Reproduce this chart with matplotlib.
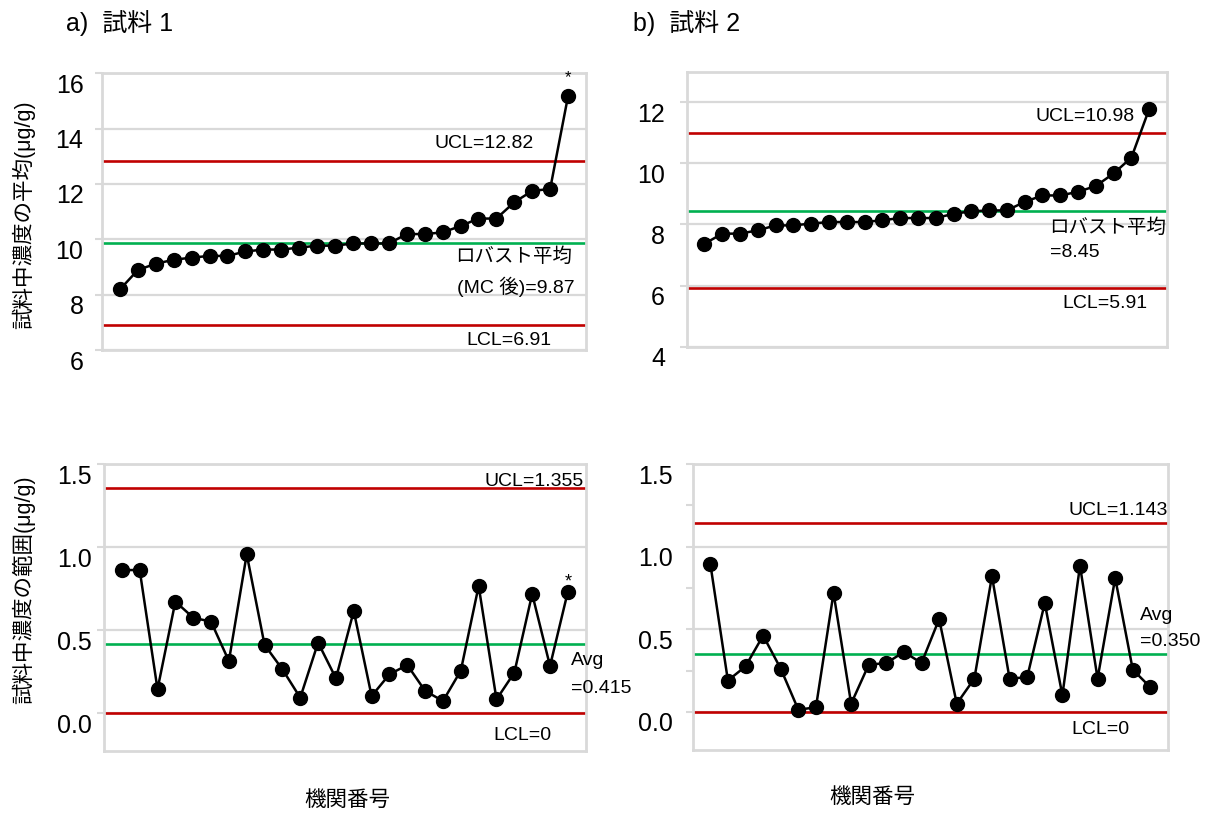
import matplotlib
matplotlib.use("Agg")
import matplotlib.pyplot as plt
import matplotlib.transforms as mtransforms
import numpy as np

plt.rcParams['font.family'] = ['Liberation Sans', 'Noto Sans CJK JP', 'DejaVu Sans']

# Lab means, sorted ascending (sample 1 / sample 2)
mean_s1 = [8.19, 8.89, 9.12, 9.26, 9.34, 9.40, 9.40, 9.56, 9.63, 9.63, 9.70, 9.77, 9.77,
           9.85, 9.85, 9.85, 10.19, 10.19, 10.25, 10.48, 10.75, 10.75, 11.34, 11.75, 11.82, 15.18]
mean_s2 = [7.37, 7.70, 7.70, 7.81, 7.97, 7.97, 8.03, 8.08, 8.08, 8.08, 8.14, 8.21, 8.21,
           8.21, 8.35, 8.43, 8.46, 8.46, 8.74, 8.95, 8.95, 9.07, 9.26, 9.67, 10.19, 11.78]

# Within-lab ranges in the same lab order
range_s1 = [0.863, 0.863, 0.145, 0.673, 0.576, 0.552, 0.315, 0.958, 0.412, 0.265, 0.094, 0.426, 0.211,
            0.616, 0.104, 0.235, 0.291, 0.135, 0.074, 0.257, 0.767, 0.084, 0.245, 0.719, 0.285, 0.733]
range_s2 = [0.897, 0.190, 0.276, 0.462, 0.262, 0.014, 0.028, 0.720, 0.050, 0.286, 0.296, 0.363, 0.296,
            0.562, 0.050, 0.202, 0.821, 0.202, 0.210, 0.659, 0.101, 0.885, 0.202, 0.810, 0.256, 0.149]

# Control limits and centre lines
ucl_mean = [12.82, 10.98]
lcl_mean = [6.91, 5.91]
center_mean = [9.87, 8.45]
ucl_range = [1.355, 1.143]
lcl_range = [0, 0]
center_range = [0.415, 0.350]

mean_ticks_s1 = [6, 8, 10, 12, 14, 16]
mean_ticks_s2 = [4, 6, 8, 10, 12]
range_ticks = [0.0, 0.5, 1.0, 1.5]
range_tick_labels = ["0.0", "0.5", "1.0", "1.5"]

panel_titles = ["a)  試料 1", "b)  試料 2"]
ylabel_mean = "試料中濃度の平均(μg/g)"
ylabel_range = "試料中濃度の範囲(μg/g)"
xlabel = "機関番号"

W, H = 1208, 813
fig = plt.figure(figsize=(W / 100, H / 100), dpi=100)

RED = "#c00000"
GREEN = "#00b050"
GRID = "#d9d9d9"
TXT = 14


def px_axes(x0, y0, x1, y1):
    return fig.add_axes([x0 / W, 1 - y1 / H, (x1 - x0) / W, (y1 - y0) / H])


def style(ax, ylim, yticks, pad, labels=None, minor=None):
    n = len(mean_s1)
    ax.set_xlim(0, n + 1)
    ax.set_ylim(*ylim)
    ax.set_yticks(yticks)
    if labels is not None:
        ax.set_yticklabels(labels)
    if minor is not None:
        ax.set_yticks(minor, minor=True)
    ax.set_xticks([])
    ax.yaxis.grid(True, which='major', color=GRID, linewidth=1.6)
    ax.set_axisbelow(True)
    for sp in ax.spines.values():
        sp.set_color(GRID)
        sp.set_linewidth(2.0)
    ax.tick_params(axis='y', which='both', length=5, width=1.5, color=GRID,
                   pad=pad, labelsize=18)
    # tick labels sit a little below their grid lines
    off = mtransforms.ScaledTranslation(0, -0.10, fig.dpi_scale_trans)
    for lab in ax.get_yticklabels():
        lab.set_transform(lab.get_transform() + off)


def hline(ax, y, color):
    ax.axhline(y, color=color, linewidth=1.9, zorder=2)


def note(ax, x, y, s, dy, ha, va='center', size=TXT):
    ax.annotate(s, xy=(x, y), xytext=(0, dy), textcoords='offset pixels',
                ha=ha, va=va, fontsize=size, color='black', zorder=5)


def series(ax, vals):
    x = np.arange(1, len(vals) + 1)
    ax.plot(x, vals, color='black', linewidth=1.8, marker='o', markersize=10,
            zorder=4)


# --- a) mean chart, sample 1
ax1 = px_axes(102, 73.3, 586, 350)
hline(ax1, ucl_mean[0], RED)
hline(ax1, lcl_mean[0], RED)
hline(ax1, center_mean[0], GREEN)
series(ax1, mean_s1)
style(ax1, (6, 16), mean_ticks_s1, 8.4)
note(ax1, 24.1, ucl_mean[0], "UCL=12.82", 18, 'right')
note(ax1, 19.7, center_mean[0], "ロバスト平均", -14, 'left')
note(ax1, 19.8, center_mean[0], "(MC 後)=9.87", -44, 'left')
note(ax1, 25.1, lcl_mean[0], "LCL=6.91", -16, 'right')
note(ax1, 26, mean_s1[-1], "*", 18, 'center', size=12)

# --- b) mean chart, sample 2
ax2 = px_axes(686.7, 71.7, 1167, 346.7)
hline(ax2, ucl_mean[1], RED)
hline(ax2, lcl_mean[1], RED)
hline(ax2, center_mean[1], GREEN)
series(ax2, mean_s2)
style(ax2, (4, 13), mean_ticks_s2, 10.6)
note(ax2, 25.2, ucl_mean[1], "UCL=10.98", 17, 'right')
note(ax2, 20.4, center_mean[1], "ロバスト平均", -17, 'left')
note(ax2, 20.4, center_mean[1], "=8.45", -42, 'left')
note(ax2, 25.9, lcl_mean[1], "LCL=5.91", -15, 'right')

# --- a) range chart, sample 1
ax3 = px_axes(104, 464.3, 585.7, 751)
hline(ax3, ucl_range[0], RED)
hline(ax3, lcl_range[0], RED)
hline(ax3, center_range[0], GREEN)
series(ax3, range_s1)
style(ax3, (-0.227, 1.5), range_ticks, 3.8, labels=range_tick_labels)
note(ax3, 26.9, ucl_range[0], "UCL=1.355", 7, 'right')
note(ax3, 26.2, center_range[0], "Avg", -16, 'left')
note(ax3, 26.2, center_range[0], "=0.415", -44, 'left')
note(ax3, 25.1, lcl_range[0], "LCL=0", -22, 'right')
note(ax3, 26, range_s1[-1], "*", 10, 'center', size=13)

# --- b) range chart, sample 2
ax4 = px_axes(692.7, 464, 1168, 750)
hline(ax4, ucl_range[1], RED)
hline(ax4, lcl_range[1], RED)
hline(ax4, center_range[1], GREEN)
series(ax4, range_s2)
style(ax4, (-0.23, 1.5), range_ticks, 9.1, labels=range_tick_labels,
      minor=[0.25, 0.75, 1.25])
note(ax4, 27.0, ucl_range[1], "UCL=1.143", 13, 'right')
note(ax4, 25.4, center_range[1], "Avg", 39, 'left')
note(ax4, 25.4, center_range[1], "=0.350", 13, 'left')
note(ax4, 24.8, lcl_range[1], "LCL=0", -18, 'right')

# Panel titles, axis labels
fig.text(66 / W, 1 - 23 / H, panel_titles[0], fontsize=18, ha='left', va='center')
fig.text(633 / W, 1 - 23 / H, panel_titles[1], fontsize=18, ha='left', va='center')
fig.text(23.5 / W, 1 - 215 / H, ylabel_mean, fontsize=15.5, rotation=90,
         ha='center', va='center')
fig.text(23.5 / W, 1 - 590 / H, ylabel_range, fontsize=15.5, rotation=90,
         ha='center', va='center')
fig.text(347 / W, 1 - 800 / H, xlabel, fontsize=15.5, ha='center', va='center')
fig.text(872 / W, 1 - 797 / H, xlabel, fontsize=15.5, ha='center', va='center')

fig.savefig("out.png", dpi=100)
